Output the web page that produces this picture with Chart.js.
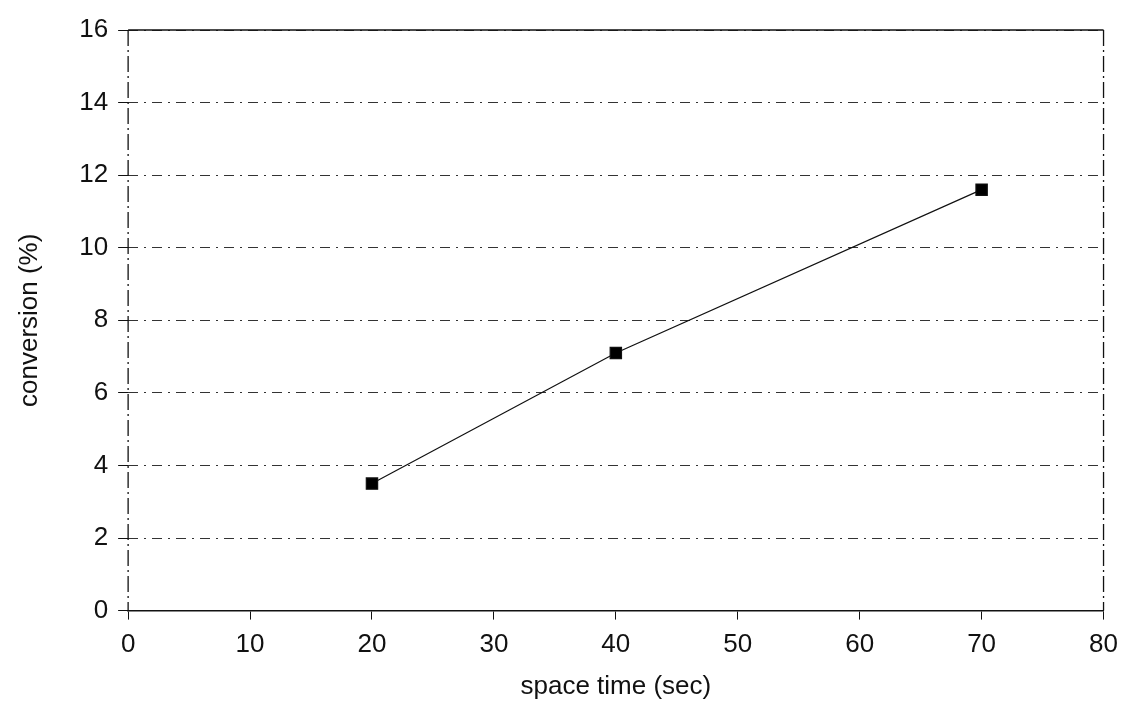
<!DOCTYPE html>
<html>
<head>
<meta charset="utf-8">
<script src="https://cdn.jsdelivr.net/npm/chart.js@4/dist/chart.umd.min.js"></script>
<style>
  html, body { margin: 0; padding: 0; background: #fff; }
  #wrap { width: 1128px; height: 702px; }
</style>
</head>
<body>
<div id="wrap"><canvas id="convChart" width="1128" height="702"></canvas></div>
<script>
const spaceTime = [20, 40, 70];
const conversion = [3.5, 7.1, 11.6];
const xTicks = [0, 10, 20, 30, 40, 50, 60, 70, 80];
const yTicks = [0, 2, 4, 6, 8, 10, 12, 14, 16];

const points = spaceTime.map((x, i) => ({ x: x, y: conversion[i] }));

// frame: solid top edge, dashed left and right edges
const frame = {
    id: 'frame',
    afterDraw(chart) {
        const a = chart.chartArea;
        const ctx = chart.ctx;
        ctx.save();
        ctx.strokeStyle = '#111';
        ctx.lineWidth = 1.5;
        ctx.beginPath();
        ctx.moveTo(a.left, a.top);
        ctx.lineTo(a.right, a.top);
        ctx.stroke();
        ctx.lineWidth = 1.3;
        ctx.setLineDash([16, 4, 2, 4]);
        ctx.beginPath();
        ctx.moveTo(a.left, a.top);
        ctx.lineTo(a.left, a.bottom);
        ctx.moveTo(a.right, a.top);
        ctx.lineTo(a.right, a.bottom);
        ctx.stroke();
        ctx.restore();
    }
};

Chart.defaults.font.family = '"Liberation Sans", Arial, sans-serif';
Chart.defaults.color = '#111';

new Chart(document.getElementById('convChart'), {
    type: 'scatter',
    data: {
        datasets: [{
            data: points,
            showLine: true,
            borderColor: '#111',
            borderWidth: 1.2,
            backgroundColor: '#000',
            pointStyle: 'rect',
            pointRadius: 8,
            pointHoverRadius: 8,
        }]
    },
    options: {
        responsive: false,
        animation: false,
        layout: { padding: { left: 10, right: 23, top: 30, bottom: 0 } },
        plugins: { legend: { display: false }, tooltip: { enabled: false } },
        scales: {
            x: {
                type: 'linear',
                min: 0,
                max: 80,
                afterBuildTicks: (s) => { s.ticks = xTicks.map(v => ({ value: v })); },
                grid: { drawOnChartArea: false, tickLength: 9, tickColor: '#111' },
                border: { color: '#111', width: 1.5 },
                ticks: { font: { size: 26 }, padding: 10 },
                title: { display: true, text: 'space time (sec)', font: { size: 26 }, padding: { top: 0, bottom: 0 } }
            },
            y: {
                type: 'linear',
                min: 0,
                max: 16,
                afterBuildTicks: (s) => { s.ticks = yTicks.map(v => ({ value: v })); },
                grid: { color: '#333', lineWidth: 1, tickLength: 10, tickColor: '#111' },
                border: { display: false, dash: [10, 6, 2, 6] },
                ticks: { font: { size: 26 }, padding: 10 },
                title: { display: true, text: 'conversion (%)', font: { size: 26 }, padding: { bottom: 24 } }
            }
        }
    },
    plugins: [frame]
});
</script>
</body>
</html>
